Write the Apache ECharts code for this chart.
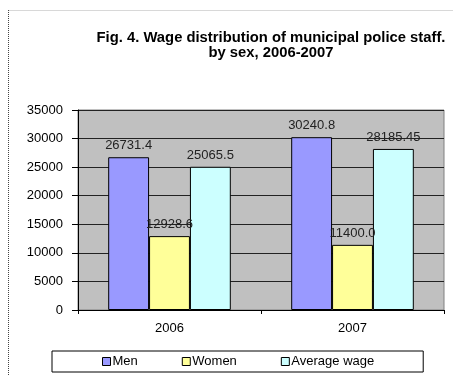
<!DOCTYPE html>
<html>
<head>
<meta charset="utf-8">
<script src="https://cdn.jsdelivr.net/npm/echarts@6/dist/echarts.min.js"></script>
<style>
html,body{margin:0;padding:0;background:#fff;}
#main{width:453px;height:376px;}
</style>
</head>
<body>
<div id="main"></div>
<script>
var years = ['2006', '2007'];//横轴年份
var men = [26731.4, 30240.8];
var women = [12928.6, 11400.0];
var average = [25065.5, 28185.45];
var yTicks = [0, 5000, 10000, 15000, 20000, 25000, 30000, 35000];

var font = 'Arial, "Liberation Sans", sans-serif';

// 数据标签：整数也显示一位小数
function fmt(p) {
    var v = p.value;
    return (v % 1 === 0) ? v.toFixed(1) : String(v);
}

function bar(name, data, color) {
    return {
        name: name,
        type: 'bar',
        data: data,
        barGap: '0%',
        barCategoryGap: '33%',
        itemStyle: {color: color, borderColor: '#000', borderWidth: 1},
        label: {
            show: true,
            position: 'top',
            distance: 5,
            formatter: fmt,
            color: '#222',
            fontFamily: font,
            fontSize: 13
        }
    };
}

var myChart = echarts.init(document.getElementById('main'));
var option = {
    animation: false,
    backgroundColor: '#fff',
    title: {
        text: 'Fig. 4. Wage distribution of municipal police staff.\nby sex, 2006-2007',
        left: 266,
        top: 25,
        textAlign: 'center',
        textStyle: {fontFamily: font, fontSize: 14.8, fontWeight: 'bold', color: '#000', lineHeight: 15, align: 'center'}
    },
    graphic: [
        {type: 'line', shape: {x1: 8, y1: 10.5, x2: 453, y2: 10.5}, style: {stroke: '#d8d8d8', lineWidth: 1}, silent: true},
        {type: 'line', shape: {x1: 8.5, y1: 10, x2: 8.5, y2: 376}, style: {stroke: '#444', lineWidth: 1, lineDash: [1, 1]}, silent: true}
    ],
    legend: {
        data: ['Men', 'Women', 'Average wage'],
        left: 52,
        top: 351,
        orient: 'horizontal',
        padding: [4, 49, 4, 50],
        itemGap: 44,
        itemWidth: 8,
        itemHeight: 8,
        icon: 'rect',
        borderColor: '#000',
        borderWidth: 1,
        itemStyle: {borderColor: '#000', borderWidth: 1},
        textStyle: {fontFamily: font, fontSize: 13, color: '#000', padding: [0, 0, 0, -3]}
    },
    grid: {
        left: 78,
        right: 9,
        top: 110,
        bottom: 66,
        show: true,
        backgroundColor: '#c0c0c0',
        borderColor: '#808080',
        borderWidth: 1
    },
    xAxis: {
        type: 'category',
        data: years,
        axisLine: {lineStyle: {color: '#000'}},
        axisTick: {show: true, length: 4, lineStyle: {color: '#000'}},
        axisLabel: {fontFamily: font, fontSize: 13, color: '#000', margin: 12}
    },
    yAxis: {
        type: 'value',
        min: yTicks[0],
        max: yTicks[yTicks.length - 1],
        interval: 5000,
        axisLine: {show: true, lineStyle: {color: '#000'}},
        axisTick: {show: true, length: 6, lineStyle: {color: '#000'}},
        axisLabel: {
            fontFamily: font, fontSize: 13, color: '#000', margin: 15,
            formatter: function (v) { return String(v); }
        },
        splitLine: {show: true, lineStyle: {color: '#222', width: 1}}
    },
    series: [
        bar('Men', men, '#9999ff'),
        bar('Women', women, '#ffff99'),
        bar('Average wage', average, '#ccffff')
    ]
};
myChart.setOption(option);
</script>
</body>
</html>
